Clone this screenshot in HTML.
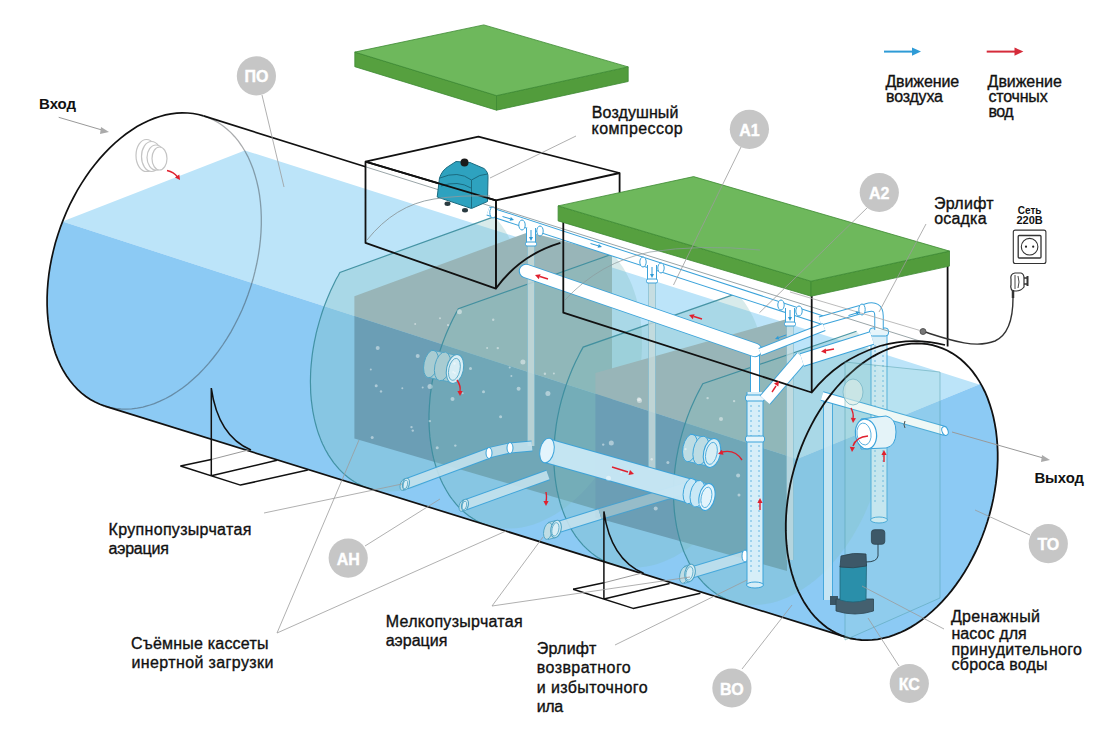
<!DOCTYPE html>
<html><head><meta charset="utf-8"><style>
html,body{margin:0;padding:0;background:#fff;}
svg{display:block;}
text{font-family:"Liberation Sans",sans-serif;}
</style></head><body>
<svg width="1116" height="740" viewBox="0 0 1116 740">
<defs><clipPath id="above"><path d="M0,0 L1116,0 L1116,562.1 L0,201.4 Z"/></clipPath><clipPath id="below"><path d="M0,201.4 L1116,562.1 L1116,740 L0,740 Z"/></clipPath><clipPath id="cyl"><path d="M203.5,115.9 L937.5,346.6 L937.5,346.6 L941.3,347.9 L945.0,349.4 L948.6,351.2 L952.1,353.2 L955.5,355.4 L958.8,357.8 L962.0,360.5 L965.1,363.3 L968.1,366.3 L971.0,369.6 L973.7,373.0 L976.3,376.6 L978.8,380.4 L981.1,384.4 L983.3,388.6 L985.4,392.9 L987.3,397.4 L989.0,402.0 L990.6,406.8 L992.0,411.6 L993.3,416.7 L994.4,421.8 L995.4,427.1 L996.2,432.4 L996.8,437.9 L997.3,443.4 L997.6,449.0 L997.7,454.7 L997.7,460.4 L997.5,466.2 L997.1,472.0 L996.6,477.9 L995.9,483.8 L995.0,489.7 L993.9,495.6 L992.8,501.5 L991.4,507.3 L989.9,513.2 L988.2,519.0 L986.4,524.8 L984.4,530.5 L982.3,536.2 L980.1,541.8 L977.7,547.3 L975.1,552.7 L972.5,558.0 L969.7,563.3 L966.8,568.4 L963.7,573.4 L960.6,578.2 L957.3,582.9 L954.0,587.5 L950.5,592.0 L946.9,596.2 L943.3,600.3 L939.6,604.3 L935.8,608.0 L931.9,611.6 L928.0,615.0 L924.0,618.2 L920.0,621.2 L915.9,624.0 L911.8,626.5 L907.6,628.9 L903.4,631.0 L899.2,633.0 L895.0,634.7 L890.8,636.2 L886.6,637.4 L882.4,638.4 L878.2,639.2 L874.1,639.8 L869.9,640.1 L865.8,640.2 L861.8,640.0 L857.7,639.7 L853.8,639.0 L849.9,638.2 L846.0,637.1 L104.9,406.1 L104.9,406.1 L101.2,404.8 L97.5,403.3 L93.9,401.5 L90.5,399.6 L87.1,397.4 L83.8,394.9 L80.7,392.3 L77.6,389.5 L74.7,386.4 L71.9,383.2 L69.3,379.8 L66.7,376.2 L64.3,372.4 L62.1,368.4 L60.0,364.2 L58.0,359.9 L56.2,355.5 L54.6,350.9 L53.1,346.1 L51.8,341.2 L50.6,336.2 L49.6,331.1 L48.7,325.8 L48.1,320.5 L47.6,315.0 L47.2,309.5 L47.1,303.9 L47.1,298.2 L47.2,292.5 L47.6,286.7 L48.1,280.9 L48.8,275.0 L49.6,269.1 L50.6,263.3 L51.8,257.4 L53.1,251.5 L54.6,245.6 L56.3,239.8 L58.1,233.9 L60.1,228.2 L62.2,222.5 L64.4,216.8 L66.8,211.2 L69.3,205.7 L72.0,200.3 L74.8,195.0 L77.7,189.7 L80.8,184.6 L83.9,179.6 L87.2,174.8 L90.6,170.0 L94.1,165.5 L97.6,161.0 L101.3,156.8 L105.1,152.7 L108.9,148.7 L112.8,145.0 L116.7,141.4 L120.8,138.0 L124.8,134.8 L129.0,131.8 L133.1,129.1 L137.3,126.5 L141.5,124.1 L145.8,122.0 L150.0,120.0 L154.3,118.3 L158.5,116.8 L162.8,115.6 L167.0,114.6 L171.3,113.8 L175.4,113.2 L179.6,112.9 L183.7,112.8 L187.8,113.0 L191.8,113.3 L195.8,113.9 L199.7,114.8 L203.5,115.9Z"/></clipPath></defs>
<rect width="1116" height="740" fill="#fff"/>
<path d="M62.4,221.6 L244.8,150.4 L979.1,384.5 L797.0,459.0Z" fill="#BCE4F9"/>
<path d="M62.4,221.6 L797,459 L979.1,384.5 L980.7,383.6 L983.1,388.2 L985.4,393.0 L987.5,397.9 L989.4,403.1 L991.1,408.4 L992.6,413.8 L994.0,419.4 L995.1,425.2 L996.0,431.1 L996.7,437.1 L997.3,443.2 L997.6,449.4 L997.7,455.7 L997.6,462.0 L997.3,468.4 L996.9,474.9 L996.2,481.4 L995.3,487.9 L994.2,494.4 L992.9,500.9 L991.4,507.4 L989.7,513.9 L987.8,520.3 L985.8,526.7 L983.5,533.0 L981.1,539.2 L978.5,545.3 L975.8,551.3 L972.9,557.2 L969.8,563.0 L966.6,568.7 L963.2,574.2 L959.7,579.5 L956.1,584.7 L952.3,589.7 L948.4,594.5 L944.4,599.1 L940.4,603.5 L936.2,607.7 L931.9,611.6 L927.6,615.3 L923.1,618.8 L918.7,622.1 L914.1,625.1 L909.6,627.8 L905.0,630.3 L900.3,632.5 L895.7,634.4 L891.0,636.1 L886.4,637.5 L881.7,638.6 L877.1,639.4 L872.5,639.9 L868.0,640.2 L863.5,640.1 L859.0,639.8 L854.6,639.2 L850.3,638.3 L846.0,637.1 L104.9,406.1 L104.9,406.1 L102.3,405.2 L99.7,404.2 L97.2,403.1 L94.7,401.9 L92.2,400.6 L89.8,399.2 L87.5,397.6 L85.2,396.0 L82.9,394.2 L80.7,392.4 L78.6,390.4 L76.5,388.4 L74.5,386.2 L72.6,384.0 L70.7,381.7 L68.8,379.2 L67.1,376.7 L65.4,374.1 L63.8,371.4 L62.2,368.6 L60.7,365.7 L59.3,362.8 L58.0,359.8 L56.7,356.7 L55.5,353.5 L54.4,350.2 L53.3,346.9 L52.4,343.5 L51.5,340.1 L50.7,336.6 L49.9,333.0 L49.3,329.4 L48.7,325.7 L48.3,322.0 L47.8,318.3 L47.5,314.4 L47.3,310.6 L47.1,306.7 L47.1,302.8 L47.1,298.8 L47.2,294.8 L47.3,290.8 L47.6,286.8 L47.9,282.7 L48.3,278.6 L48.8,274.6 L49.4,270.5 L50.1,266.4 L50.8,262.2 L51.6,258.1 L52.5,254.0 L53.5,249.9 L54.6,245.8 L55.7,241.8 L56.9,237.7 L58.2,233.6 L59.6,229.6 L61.0,225.6 L62.5,221.6Z" fill="#8CCAF4"/>
<g clip-path="url(#cyl)">
<path d="M339.9,272.4 L339.9,272.4 L336.2,279.3 L332.6,286.4 L329.3,293.7 L326.3,301.1 L323.5,308.6 L320.9,316.2 L318.6,323.8 L316.6,331.6 L314.9,339.3 L313.4,347.1 L312.3,354.8 L311.4,362.6 L310.8,370.2 L310.5,377.8 L310.5,385.3 L310.7,392.7 L311.3,400.0 L312.2,407.1 L313.3,414.0 L314.8,420.7 L316.5,427.3 L318.5,433.5 L320.8,439.6 L323.3,445.4 L326.1,450.9 L329.1,456.0 L332.4,460.9 L335.9,465.5 L339.7,469.7 L343.6,473.6 L347.8,477.1 L352.1,480.3 L356.6,483.1 L361.3,485.5 L366.2,487.5 L371.1,489.1 L376.2,490.3 L381.5,491.1 L386.8,491.5 L392.2,491.5 L397.6,491.1 L403.2,490.3 L408.7,489.0 L414.3,487.4 L419.9,485.4 L425.5,483.0 L431.1,480.2 L436.6,477.0 L442.0,473.5 L447.4,469.6 L452.8,465.4 L458.0,460.8 L463.1,455.9 L468.1,450.7 L472.9,445.2 L477.6,439.4 L482.1,433.4 L486.5,427.1 L490.6,420.5 L494.6,413.8 L498.3,406.9 L501.8,399.8 L505.1,392.5 L508.2,385.1 L510.9,377.6 L513.5,370.0 L515.8,362.3 L517.8,354.6 L519.5,346.8 L520.9,339.1 L522.1,331.3 L522.9,323.6 L523.5,315.9 L523.8,308.3 L523.8,300.8 L523.5,293.4 L522.9,286.2 L522.0,279.1 L520.9,272.2 L519.4,265.5 L517.7,259.0 L515.7,252.7 L513.4,246.7 L510.8,240.9 L508.0,235.4 L505.0,230.3 L501.7,225.4 L498.1,220.8 L494.4,216.6Z" fill="rgb(125,190,190)" fill-opacity="0.3"/>
<path d="M354.4,296.3 L511.0,238.6 L529.0,232.0 L612.0,254.0 L612.0,514.0 L354.4,438.5Z" fill="#98B5B8" clip-path="url(#above)"/><path d="M354.4,296.3 L511.0,238.6 L529.0,232.0 L612.0,254.0 L612.0,514.0 L354.4,438.5Z" fill="#6B9EB5" clip-path="url(#below)"/>
<path d="M458.4,308.8 L458.4,308.8 L454.7,315.7 L451.1,322.8 L447.9,330.0 L444.8,337.4 L442.0,344.9 L439.5,352.5 L437.2,360.2 L435.2,367.9 L433.4,375.6 L432.0,383.4 L430.8,391.2 L429.9,398.9 L429.3,406.6 L429.0,414.2 L429.0,421.7 L429.3,429.1 L429.9,436.4 L430.8,443.5 L431.9,450.4 L433.4,457.2 L435.1,463.7 L437.1,470.0 L439.3,476.1 L441.9,481.9 L444.6,487.4 L447.7,492.7 L451.0,497.6 L454.5,502.2 L458.2,506.4 L462.1,510.3 L466.3,513.9 L470.6,517.1 L475.1,519.9 L479.8,522.3 L484.7,524.4 L489.6,526.0 L494.7,527.3 L499.9,528.1 L505.2,528.6 L510.6,528.6 L516.1,528.2 L521.6,527.4 L527.2,526.3 L532.7,524.7 L538.3,522.7 L543.9,520.3 L549.4,517.6 L555.0,514.4 L560.4,510.9 L565.8,507.1 L571.1,502.8 L576.3,498.3 L581.4,493.4 L586.4,488.2 L591.2,482.8 L595.9,477.0 L600.4,471.0 L604.7,464.7 L608.9,458.2 L612.8,451.5 L616.6,444.6 L620.1,437.5 L623.4,430.2 L626.4,422.9 L629.2,415.4 L631.7,407.8 L634.0,400.1 L636.0,392.4 L637.7,384.6 L639.1,376.8 L640.3,369.1 L641.1,361.3 L641.7,353.7 L642.0,346.1 L642.0,338.6 L641.7,331.2 L641.1,323.9 L640.2,316.8 L639.0,309.9 L637.6,303.1 L635.8,296.6 L633.8,290.3 L631.6,284.3 L629.0,278.5 L626.2,273.0 L623.2,267.8 L619.9,262.9 L616.4,258.3 L612.6,254.0Z" fill="rgb(125,190,190)" fill-opacity="0.3"/>
<path d="M583.2,347.1 L583.2,347.1 L579.5,354.0 L575.9,361.0 L572.7,368.3 L569.6,375.6 L566.8,383.1 L564.3,390.7 L562.0,398.4 L560.0,406.1 L558.3,413.8 L556.8,421.6 L555.7,429.4 L554.8,437.1 L554.2,444.8 L553.9,452.4 L553.9,460.0 L554.2,467.4 L554.7,474.7 L555.6,481.8 L556.8,488.7 L558.2,495.5 L559.9,502.1 L561.9,508.4 L564.2,514.5 L566.7,520.3 L569.5,525.9 L572.5,531.1 L575.8,536.1 L579.3,540.7 L583.0,545.0 L586.9,549.0 L591.1,552.6 L595.4,555.8 L599.9,558.7 L604.6,561.1 L609.4,563.2 L614.4,564.9 L619.4,566.2 L624.6,567.1 L629.9,567.6 L635.3,567.6 L640.8,567.3 L646.3,566.6 L651.8,565.4 L657.4,563.9 L662.9,561.9 L668.5,559.6 L674.1,556.9 L679.6,553.8 L685.0,550.3 L690.4,546.5 L695.7,542.3 L700.9,537.8 L706.0,533.0 L710.9,527.8 L715.8,522.4 L720.4,516.7 L724.9,510.7 L729.3,504.4 L733.4,497.9 L737.3,491.2 L741.1,484.3 L744.6,477.3 L747.8,470.0 L750.9,462.7 L753.6,455.2 L756.2,447.6 L758.4,439.9 L760.4,432.2 L762.1,424.4 L763.6,416.7 L764.7,408.9 L765.6,401.2 L766.2,393.5 L766.4,385.9 L766.4,378.3 L766.1,370.9 L765.5,363.7 L764.7,356.5 L763.5,349.6 L762.0,342.8 L760.3,336.3 L758.3,329.9 L756.0,323.9 L753.5,318.1 L750.7,312.5 L747.7,307.3 L744.4,302.3 L740.9,297.7 L737.1,293.5Z" fill="rgb(125,190,190)" fill-opacity="0.3"/>
<path d="M595.4,373.0 L717.8,338.5 L787.0,319.0 L787.0,571.0 L595.4,517.5Z" fill="#98B5B8" clip-path="url(#above)"/><path d="M595.4,373.0 L717.8,338.5 L787.0,319.0 L787.0,571.0 L595.4,517.5Z" fill="#6B9EB5" clip-path="url(#below)"/>
<path d="M702.8,383.8 L702.8,383.8 L699.1,390.6 L695.6,397.7 L692.3,404.9 L689.3,412.2 L686.5,419.7 L683.9,427.3 L681.7,434.9 L679.7,442.7 L677.9,450.4 L676.5,458.2 L675.3,466.0 L674.4,473.7 L673.9,481.4 L673.5,489.0 L673.5,496.6 L673.8,504.0 L674.4,511.3 L675.3,518.5 L676.4,525.4 L677.8,532.2 L679.5,538.8 L681.5,545.2 L683.8,551.3 L686.3,557.2 L689.1,562.7 L692.1,568.0 L695.4,573.0 L698.9,577.7 L702.6,582.0 L706.5,586.0 L710.7,589.6 L715.0,592.9 L719.5,595.8 L724.1,598.3 L728.9,600.4 L733.9,602.2 L739.0,603.5 L744.2,604.4 L749.5,605.0 L754.8,605.1 L760.3,604.8 L765.8,604.1 L771.3,603.0 L776.9,601.5 L782.4,599.6 L788.0,597.3 L793.5,594.6 L799.0,591.5 L804.4,588.1 L809.8,584.3 L815.1,580.2 L820.3,575.7 L825.4,570.9 L830.3,565.8 L835.2,560.3 L839.8,554.6 L844.3,548.7 L848.6,542.4 L852.8,536.0 L856.7,529.3 L860.4,522.4 L863.9,515.4 L867.2,508.1 L870.2,500.8 L873.0,493.3 L875.5,485.7 L877.8,478.0 L879.7,470.3 L881.5,462.6 L882.9,454.8 L884.0,447.0 L884.9,439.3 L885.5,431.6 L885.7,424.0 L885.7,416.4 L885.4,409.0 L884.8,401.7 L884.0,394.6 L882.8,387.6 L881.3,380.8 L879.6,374.3 L877.6,367.9 L875.3,361.8 L872.8,356.0 L870.0,350.4 L867.0,345.1 L863.7,340.2 L860.2,335.5 L856.4,331.2Z" fill="rgb(125,190,190)" fill-opacity="0.3"/>
<path d="M494.4,216.6 L339.9,272.4 L339.9,272.4 L338.0,276.0 L336.0,279.5 L334.2,283.2 L332.4,286.9 L330.7,290.6 L329.0,294.4 L327.4,298.2 L325.9,302.0 L324.4,305.9 L323.0,309.8 L321.7,313.7 L320.5,317.6 L319.3,321.6 L318.2,325.6 L317.1,329.6 L316.1,333.6 L315.3,337.6 L314.4,341.6 L313.7,345.6 L313.0,349.6 L312.4,353.6 L311.9,357.6 L311.5,361.6 L311.1,365.6 L310.8,369.5 L310.6,373.5 L310.5,377.4 L310.4,381.3 L310.5,385.1 L310.6,389.0 L310.7,392.8 L311.0,396.5 L311.3,400.2 L311.8,403.9 L312.3,407.6 L312.8,411.1 L313.5,414.7 L314.2,418.2 L315.0,421.6 L315.9,425.0 L316.8,428.3 L317.8,431.6 L318.9,434.7 L320.1,437.9 L321.3,440.9 L322.6,443.9 L324.0,446.8 L325.4,449.7 L327.0,452.4 L328.5,455.1 L330.2,457.7 L331.9,460.2 L333.6,462.6 L335.5,464.9 L337.4,467.2 L339.3,469.4 L341.3,471.4 L343.4,473.4 L345.5,475.3 L347.6,477.0 L349.9,478.7 L352.1,480.3 L354.4,481.8 L356.8,483.2 L359.2,484.4 L361.6,485.6 L364.1,486.7 L366.7,487.7 L369.2,488.5" fill="none" stroke="#3A8C9C" stroke-opacity="0.9" stroke-width="1.2"/>
<path d="M612.6,254.0 L458.4,308.8 L458.4,308.8 L456.4,312.4 L454.5,316.0 L452.7,319.6 L450.9,323.3 L449.2,327.0 L447.5,330.8 L445.9,334.6 L444.4,338.4 L442.9,342.3 L441.5,346.2 L440.2,350.1 L439.0,354.1 L437.8,358.1 L436.7,362.0 L435.6,366.0 L434.7,370.0 L433.8,374.1 L433.0,378.1 L432.2,382.1 L431.5,386.1 L431.0,390.1 L430.4,394.1 L430.0,398.1 L429.7,402.1 L429.4,406.1 L429.2,410.0 L429.0,414.0 L429.0,417.9 L429.0,421.7 L429.1,425.6 L429.3,429.4 L429.6,433.2 L429.9,436.9 L430.4,440.6 L430.9,444.3 L431.5,447.9 L432.1,451.4 L432.8,454.9 L433.6,458.4 L434.5,461.8 L435.5,465.1 L436.5,468.4 L437.6,471.6 L438.8,474.7 L440.0,477.8 L441.3,480.8 L442.7,483.7 L444.2,486.5 L445.7,489.3 L447.3,492.0 L448.9,494.6 L450.6,497.1 L452.4,499.5 L454.3,501.9 L456.1,504.2 L458.1,506.3 L460.1,508.4 L462.2,510.4 L464.3,512.3 L466.5,514.0 L468.7,515.7 L471.0,517.3 L473.3,518.8 L475.7,520.2 L478.1,521.5 L480.5,522.7 L483.0,523.7 L485.6,524.7 L488.1,525.6" fill="none" stroke="#3A8C9C" stroke-opacity="0.9" stroke-width="1.2"/>
<path d="M737.1,293.4 L583.2,347.1 L583.2,347.1 L581.2,350.6 L579.3,354.2 L577.5,357.9 L575.7,361.6 L574.0,365.3 L572.3,369.1 L570.7,372.9 L569.2,376.8 L567.7,380.6 L566.3,384.6 L565.0,388.5 L563.7,392.5 L562.6,396.4 L561.4,400.4 L560.4,404.4 L559.4,408.4 L558.6,412.5 L557.7,416.5 L557.0,420.5 L556.3,424.6 L555.8,428.6 L555.3,432.6 L554.8,436.6 L554.5,440.6 L554.2,444.6 L554.0,448.6 L553.9,452.5 L553.8,456.5 L553.9,460.4 L554.0,464.2 L554.2,468.0 L554.5,471.8 L554.8,475.6 L555.3,479.3 L555.8,483.0 L556.4,486.6 L557.0,490.2 L557.8,493.7 L558.6,497.1 L559.5,500.5 L560.4,503.9 L561.5,507.2 L562.6,510.4 L563.8,513.5 L565.0,516.6 L566.4,519.6 L567.8,522.6 L569.2,525.4 L570.7,528.2 L572.3,530.9 L574.0,533.5 L575.7,536.1 L577.5,538.5 L579.4,540.9 L581.3,543.1 L583.2,545.3 L585.3,547.4 L587.4,549.4 L589.5,551.3 L591.7,553.1 L593.9,554.8 L596.2,556.4 L598.5,557.9 L600.9,559.2 L603.3,560.5 L605.8,561.7 L608.3,562.8 L610.9,563.8 L613.4,564.6" fill="none" stroke="#3A8C9C" stroke-opacity="0.9" stroke-width="1.2"/>
<path d="M856.5,331.2 L702.8,383.8 L702.8,383.8 L700.9,387.3 L699.0,390.9 L697.1,394.6 L695.3,398.3 L693.6,402.0 L691.9,405.8 L690.3,409.6 L688.8,413.4 L687.3,417.3 L685.9,421.2 L684.6,425.2 L683.4,429.2 L682.2,433.1 L681.1,437.1 L680.0,441.2 L679.1,445.2 L678.2,449.2 L677.4,453.3 L676.6,457.3 L676.0,461.4 L675.4,465.4 L674.9,469.4 L674.5,473.5 L674.1,477.5 L673.8,481.5 L673.7,485.5 L673.5,489.4 L673.5,493.4 L673.6,497.3 L673.7,501.1 L673.9,505.0 L674.2,508.8 L674.5,512.6 L675.0,516.3 L675.5,520.0 L676.1,523.6 L676.7,527.2 L677.5,530.7 L678.3,534.2 L679.2,537.6 L680.2,541.0 L681.2,544.3 L682.4,547.5 L683.5,550.7 L684.8,553.8 L686.2,556.8 L687.6,559.8 L689.0,562.6 L690.6,565.4 L692.2,568.1 L693.8,570.8 L695.6,573.3 L697.4,575.8 L699.2,578.1 L701.2,580.4 L703.1,582.6 L705.2,584.7 L707.3,586.7 L709.4,588.6 L711.6,590.4 L713.9,592.1 L716.2,593.7 L718.5,595.2 L720.9,596.6 L723.3,597.9 L725.8,599.1 L728.3,600.2 L730.9,601.2 L733.5,602.0" fill="none" stroke="#3A8C9C" stroke-opacity="0.9" stroke-width="1.2"/>
</g>
<g opacity="0.8"><path d="M531.0,228.0 L531.0,446.0" fill="none" stroke="#8CC0D0" stroke-width="8.0" stroke-linecap="butt" stroke-linejoin="round"/><path d="M531.0,228.0 L531.0,446.0" fill="none" stroke="#C9DCDC" stroke-width="6" stroke-linecap="butt" stroke-linejoin="round"/></g>
<g opacity="0.8"><path d="M652.0,266.0 L652.0,470.0" fill="none" stroke="#8CC0D0" stroke-width="8.0" stroke-linecap="butt" stroke-linejoin="round"/><path d="M652.0,266.0 L652.0,470.0" fill="none" stroke="#C9DCDC" stroke-width="6" stroke-linecap="butt" stroke-linejoin="round"/></g>
<g opacity="0.7"><path d="M790.0,307.0 L790.0,560.0" fill="none" stroke="#8CC0D0" stroke-width="8.0" stroke-linecap="butt" stroke-linejoin="round"/><path d="M790.0,307.0 L790.0,560.0" fill="none" stroke="#C9DCDC" stroke-width="6" stroke-linecap="butt" stroke-linejoin="round"/></g>
<g opacity="0.9"><path d="M406.0,484.0 L492.0,452.0 L510.0,448.0 L532.0,446.0" fill="none" stroke="#3BA3DA" stroke-width="11.0" stroke-linecap="butt" stroke-linejoin="round"/><path d="M406.0,484.0 L492.0,452.0 L510.0,448.0 L532.0,446.0" fill="none" stroke="#C4E2EE" stroke-width="9" stroke-linecap="butt" stroke-linejoin="round"/></g>
<g opacity="0.9"><path d="M465.0,505.0 L548.0,475.0" fill="none" stroke="#3BA3DA" stroke-width="11.0" stroke-linecap="butt" stroke-linejoin="round"/><path d="M465.0,505.0 L548.0,475.0" fill="none" stroke="#C4E2EE" stroke-width="9" stroke-linecap="butt" stroke-linejoin="round"/></g>
<g opacity="0.9"><path d="M552.0,529.0 L600.0,514.0" fill="none" stroke="#3BA3DA" stroke-width="12.0" stroke-linecap="butt" stroke-linejoin="round"/><path d="M552.0,529.0 L600.0,514.0" fill="none" stroke="#C4E2EE" stroke-width="10" stroke-linecap="butt" stroke-linejoin="round"/></g>
<g opacity="0.7"><path d="M600.0,514.0 L690.0,487.0" fill="none" stroke="#3BA3DA" stroke-width="12.0" stroke-linecap="butt" stroke-linejoin="round"/><path d="M600.0,514.0 L690.0,487.0" fill="none" stroke="#A9C9D2" stroke-width="10" stroke-linecap="butt" stroke-linejoin="round"/></g>
<path d="M403.0,479.5 L406.0,478.5 L406.0,489.5 L403.0,490.5 Z" fill="#BFDDE5" stroke="none"/>
<ellipse cx="403" cy="485" rx="2.8" ry="5.5" transform="rotate(12 403 485)" fill="#BFDDE5" stroke="#4FA3C4" stroke-width="0.9"/>
<path d="M403.0,479.5 L406.0,478.5 M403.0,490.5 L406.0,489.5" stroke="#4FA3C4" stroke-width="0.9"/>
<ellipse cx="406" cy="484" rx="3.3" ry="5.8" transform="rotate(12 406 484)" fill="#D8EEF5" stroke="#4FA3C4" stroke-width="1.1"/>
<ellipse cx="405.5" cy="484.5" rx="2.2" ry="4.4" transform="rotate(12 406 484)" fill="none" stroke="#4FA3C4" stroke-width="0.8"/>
<path d="M462.0,500.5 L465.0,499.5 L465.0,510.5 L462.0,511.5 Z" fill="#BFDDE5" stroke="none"/>
<ellipse cx="462" cy="506" rx="2.8" ry="5.5" transform="rotate(12 462 506)" fill="#BFDDE5" stroke="#4FA3C4" stroke-width="0.9"/>
<path d="M462.0,500.5 L465.0,499.5 M462.0,511.5 L465.0,510.5" stroke="#4FA3C4" stroke-width="0.9"/>
<ellipse cx="465" cy="505" rx="3.3" ry="5.8" transform="rotate(12 465 505)" fill="#D8EEF5" stroke="#4FA3C4" stroke-width="1.1"/>
<ellipse cx="464.5" cy="505.5" rx="2.2" ry="4.4" transform="rotate(12 465 505)" fill="none" stroke="#4FA3C4" stroke-width="0.8"/>
<path d="M548.0,522.5 L556.0,520.5 L556.0,537.5 L548.0,539.5 Z" fill="#BFDDE5" stroke="none"/>
<ellipse cx="548" cy="531" rx="4.2" ry="8.5" transform="rotate(12 548 531)" fill="#BFDDE5" stroke="#4FA3C4" stroke-width="0.9"/>
<path d="M548.0,522.5 L556.0,520.5 M548.0,539.5 L556.0,537.5" stroke="#4FA3C4" stroke-width="0.9"/>
<ellipse cx="556" cy="529" rx="5.1" ry="8.9" transform="rotate(12 556 529)" fill="#D8EEF5" stroke="#4FA3C4" stroke-width="1.1"/>
<ellipse cx="555.5" cy="529.5" rx="3.4" ry="6.8" transform="rotate(12 556 529)" fill="none" stroke="#4FA3C4" stroke-width="0.8"/>
<g opacity="0.85"><path d="M690.0,573.0 L760.0,552.0" fill="none" stroke="#3BA3DA" stroke-width="12.0" stroke-linecap="butt" stroke-linejoin="round"/><path d="M690.0,573.0 L760.0,552.0" fill="none" stroke="#C4E2EE" stroke-width="10" stroke-linecap="butt" stroke-linejoin="round"/></g>
<path d="M684.0,566.5 L690.0,564.5 L690.0,581.5 L684.0,583.5 Z" fill="#BFDDE5" stroke="none"/>
<ellipse cx="684" cy="575" rx="4.2" ry="8.5" transform="rotate(12 684 575)" fill="#BFDDE5" stroke="#4FA3C4" stroke-width="0.9"/>
<path d="M684.0,566.5 L690.0,564.5 M684.0,583.5 L690.0,581.5" stroke="#4FA3C4" stroke-width="0.9"/>
<ellipse cx="690" cy="573" rx="5.1" ry="8.9" transform="rotate(12 690 573)" fill="#D8EEF5" stroke="#4FA3C4" stroke-width="1.1"/>
<ellipse cx="689.5" cy="573.5" rx="3.4" ry="6.8" transform="rotate(12 690 573)" fill="none" stroke="#4FA3C4" stroke-width="0.8"/>
<ellipse cx="489" cy="453" rx="3" ry="5.5" transform="rotate(0 489 453)" fill="#fff" stroke="#3BA3DA" stroke-width="1"/>
<ellipse cx="510" cy="448" rx="3" ry="5.5" transform="rotate(0 510 448)" fill="#fff" stroke="#3BA3DA" stroke-width="1"/>
<ellipse cx="745" cy="556" rx="3" ry="6" transform="rotate(0 745 556)" fill="#fff" stroke="#3BA3DA" stroke-width="1"/>
<g opacity="0.95"><path d="M548.0,451.0 L700.0,494.0" fill="none" stroke="#3BA3DA" stroke-width="25.0" stroke-linecap="butt" stroke-linejoin="round"/><path d="M548.0,451.0 L700.0,494.0" fill="none" stroke="#C9E8F6" stroke-width="23" stroke-linecap="butt" stroke-linejoin="round"/></g>
<ellipse cx="547" cy="450.5" rx="7" ry="12.5" transform="rotate(12 547 450.5)" fill="#E3F4FC" stroke="#3BA3DA" stroke-width="1"/>
<path d="M690.0,478.0 L707.0,484.0 L707.0,510.0 L690.0,504.0 Z" fill="#C9E8F6" stroke="none"/>
<ellipse cx="690" cy="491" rx="6.5" ry="13" transform="rotate(12 690 491)" fill="#C9E8F6" stroke="#3BA3DA" stroke-width="0.9"/>
<path d="M690.0,478.0 L707.0,484.0 M690.0,504.0 L707.0,510.0" stroke="#3BA3DA" stroke-width="0.9"/>
<ellipse cx="697.6" cy="493.7" rx="7.2" ry="13.5" transform="rotate(12 697.6 493.7)" fill="#C9E8F6" stroke="#3BA3DA" stroke-width="0.9"/>
<ellipse cx="707" cy="497" rx="7.8" ry="13.7" transform="rotate(12 707 497)" fill="#E3F4FC" stroke="#3BA3DA" stroke-width="1.1"/>
<ellipse cx="706.5" cy="497.5" rx="5.2" ry="10.4" transform="rotate(12 707 497)" fill="none" stroke="#3BA3DA" stroke-width="0.8"/>
<path d="M431.0,350.0 L455.0,355.0 L455.0,383.0 L431.0,378.0 Z" fill="#A8CCD2" stroke="none"/>
<ellipse cx="431" cy="364" rx="7.0" ry="14" transform="rotate(12 431 364)" fill="#A8CCD2" stroke="#4FA3C4" stroke-width="0.9"/>
<path d="M431.0,350.0 L455.0,355.0 M431.0,378.0 L455.0,383.0" stroke="#4FA3C4" stroke-width="0.9"/>
<ellipse cx="442.5" cy="366.4" rx="7.7" ry="14.6" transform="rotate(12 442.5 366.4)" fill="#A8CCD2" stroke="#4FA3C4" stroke-width="0.9"/>
<ellipse cx="455" cy="369" rx="8.4" ry="14.7" transform="rotate(12 455 369)" fill="#D8EEF5" stroke="#4FA3C4" stroke-width="1.1"/>
<ellipse cx="454.5" cy="369.5" rx="5.6" ry="11.2" transform="rotate(12 455 369)" fill="none" stroke="#4FA3C4" stroke-width="0.8"/>
<path d="M690.0,434.0 L712.0,439.0 L712.0,467.0 L690.0,462.0 Z" fill="#BCDCE4" stroke="none"/>
<ellipse cx="690" cy="448" rx="7.0" ry="14" transform="rotate(12 690 448)" fill="#BCDCE4" stroke="#3BA3DA" stroke-width="0.9"/>
<path d="M690.0,434.0 L712.0,439.0 M690.0,462.0 L712.0,467.0" stroke="#3BA3DA" stroke-width="0.9"/>
<ellipse cx="701.0" cy="450.5" rx="7.7" ry="14.6" transform="rotate(12 701.0 450.5)" fill="#BCDCE4" stroke="#3BA3DA" stroke-width="0.9"/>
<ellipse cx="712" cy="453" rx="8.4" ry="14.7" transform="rotate(12 712 453)" fill="#D8EEF5" stroke="#3BA3DA" stroke-width="1.1"/>
<ellipse cx="711.5" cy="453.5" rx="5.6" ry="11.2" transform="rotate(12 712 453)" fill="none" stroke="#3BA3DA" stroke-width="0.8"/>
<g opacity="1.0"><path d="M755.0,352.0 L755.0,395.0" fill="none" stroke="#3BA3DA" stroke-width="10.0" stroke-linecap="butt" stroke-linejoin="round"/><path d="M755.0,352.0 L755.0,395.0" fill="none" stroke="#fff" stroke-width="8" stroke-linecap="butt" stroke-linejoin="round"/></g>
<g opacity="1.0"><path d="M755.0,392.0 L755.0,585.0" fill="none" stroke="#3BA3DA" stroke-width="17.0" stroke-linecap="butt" stroke-linejoin="round"/><path d="M755.0,392.0 L755.0,585.0" fill="none" stroke="#D6EEF8" stroke-width="15" stroke-linecap="butt" stroke-linejoin="round"/></g>
<ellipse cx="755" cy="585" rx="8.5" ry="3" fill="#D6EEF8" stroke="#3BA3DA" stroke-width="1"/>
<path d="M751,405 L751,575 M759,405 L759,575" stroke="#4AA8DC" stroke-width="0.8" stroke-dasharray="2,3"/>
<rect x="745.5" y="395" width="19" height="6" rx="2" fill="#E6F5FB" stroke="#3BA3DA" stroke-width="1"/>
<rect x="745.5" y="436" width="19" height="6" rx="2" fill="#E6F5FB" stroke="#3BA3DA" stroke-width="1"/>
<g opacity="0.9"><path d="M879.0,330.0 L879.0,520.0" fill="none" stroke="#3BA3DA" stroke-width="17.0" stroke-linecap="butt" stroke-linejoin="round"/><path d="M879.0,330.0 L879.0,520.0" fill="none" stroke="#D6EEF8" stroke-width="15" stroke-linecap="butt" stroke-linejoin="round"/></g>
<ellipse cx="879" cy="520" rx="8.5" ry="3" fill="#D6EEF8" stroke="#3BA3DA" stroke-width="1"/>
<path d="M875,345 L875,505 M883,345 L883,505" stroke="#4AA8DC" stroke-width="0.8" stroke-dasharray="2,3"/>
<rect x="869.5" y="328" width="19" height="8" rx="3" fill="#E6F5FB" stroke="#3BA3DA" stroke-width="1"/>
<g opacity="0.85"><path d="M828.0,400.0 L828.0,600.0" fill="none" stroke="#3BA3DA" stroke-width="10.0" stroke-linecap="butt" stroke-linejoin="round"/><path d="M828.0,400.0 L828.0,600.0" fill="none" stroke="#CFEAF4" stroke-width="8" stroke-linecap="butt" stroke-linejoin="round"/></g>
<g opacity="1.0"><path d="M526.0,271.0 L755.0,350.0" fill="none" stroke="#3BA3DA" stroke-width="14.5" stroke-linecap="round" stroke-linejoin="round"/><path d="M526.0,271.0 L755.0,350.0" fill="none" stroke="#fff" stroke-width="12.5" stroke-linecap="round" stroke-linejoin="round"/></g>
<g opacity="1.0"><path d="M488.0,211.0 L822.0,320.0" fill="none" stroke="#3BA3DA" stroke-width="9.5" stroke-linecap="butt" stroke-linejoin="round"/><path d="M488.0,211.0 L822.0,320.0" fill="none" stroke="#fff" stroke-width="7.5" stroke-linecap="butt" stroke-linejoin="round"/></g>
<path d="M820,321 L866,308 Q879,304 879,316 L879,330" fill="none" stroke="#3BA3DA" stroke-width="9.5" stroke-linejoin="round"/><path d="M820,321 L866,308 Q879,304 879,316 L879,330" fill="none" stroke="#fff" stroke-width="7.5" stroke-linejoin="round"/>
<ellipse cx="862" cy="309.5" rx="3.2" ry="5.5" transform="rotate(0 862 309.5)" fill="#fff" stroke="#3BA3DA" stroke-width="1"/>
<g opacity="1.0"><path d="M760.0,352.0 L824.0,327.0" fill="none" stroke="#3BA3DA" stroke-width="8.5" stroke-linecap="butt" stroke-linejoin="round"/><path d="M760.0,352.0 L824.0,327.0" fill="none" stroke="#fff" stroke-width="6.5" stroke-linecap="butt" stroke-linejoin="round"/></g>
<g opacity="1.0"><path d="M531.0,228.0 L531.0,244.0" fill="none" stroke="#3BA3DA" stroke-width="10.0" stroke-linecap="butt" stroke-linejoin="round"/><path d="M531.0,228.0 L531.0,244.0" fill="none" stroke="#fff" stroke-width="8" stroke-linecap="butt" stroke-linejoin="round"/></g>
<path d="M531,230 L531,239" stroke="#2E9BD6" stroke-width="1"/><path d="M529,237 L531,241 L533,237 Z" fill="#2E9BD6"/>
<rect x="525.5" y="242" width="11" height="4" rx="1.5" fill="#fff" stroke="#3BA3DA" stroke-width="1"/>
<ellipse cx="522" cy="225" rx="3.2" ry="5" transform="rotate(0 522 225)" fill="#fff" stroke="#3BA3DA" stroke-width="1"/>
<ellipse cx="540" cy="231" rx="3.2" ry="5" transform="rotate(0 540 231)" fill="#fff" stroke="#3BA3DA" stroke-width="1"/>
<g opacity="1.0"><path d="M652.0,265.0 L652.0,281.0" fill="none" stroke="#3BA3DA" stroke-width="10.0" stroke-linecap="butt" stroke-linejoin="round"/><path d="M652.0,265.0 L652.0,281.0" fill="none" stroke="#fff" stroke-width="8" stroke-linecap="butt" stroke-linejoin="round"/></g>
<path d="M652,267 L652,276" stroke="#2E9BD6" stroke-width="1"/><path d="M650,274 L652,278 L654,274 Z" fill="#2E9BD6"/>
<rect x="646.5" y="279" width="11" height="4" rx="1.5" fill="#fff" stroke="#3BA3DA" stroke-width="1"/>
<ellipse cx="643" cy="262" rx="3.2" ry="5" transform="rotate(0 643 262)" fill="#fff" stroke="#3BA3DA" stroke-width="1"/>
<ellipse cx="661" cy="268" rx="3.2" ry="5" transform="rotate(0 661 268)" fill="#fff" stroke="#3BA3DA" stroke-width="1"/>
<g opacity="1.0"><path d="M790.0,308.0 L790.0,324.0" fill="none" stroke="#3BA3DA" stroke-width="10.0" stroke-linecap="butt" stroke-linejoin="round"/><path d="M790.0,308.0 L790.0,324.0" fill="none" stroke="#fff" stroke-width="8" stroke-linecap="butt" stroke-linejoin="round"/></g>
<path d="M790,310 L790,319" stroke="#2E9BD6" stroke-width="1"/><path d="M788,317 L790,321 L792,317 Z" fill="#2E9BD6"/>
<rect x="784.5" y="322" width="11" height="4" rx="1.5" fill="#fff" stroke="#3BA3DA" stroke-width="1"/>
<ellipse cx="781" cy="305" rx="3.2" ry="5" transform="rotate(0 781 305)" fill="#fff" stroke="#3BA3DA" stroke-width="1"/>
<ellipse cx="799" cy="311" rx="3.2" ry="5" transform="rotate(0 799 311)" fill="#fff" stroke="#3BA3DA" stroke-width="1"/>
<ellipse cx="493" cy="212.5" rx="3.2" ry="5.5" transform="rotate(0 493 212.5)" fill="#fff" stroke="#3BA3DA" stroke-width="1"/>
<g opacity="1.0"><path d="M765.0,400.0 L802.0,357.0" fill="none" stroke="#3BA3DA" stroke-width="14.0" stroke-linecap="butt" stroke-linejoin="round"/><path d="M765.0,400.0 L802.0,357.0" fill="none" stroke="#fff" stroke-width="12" stroke-linecap="butt" stroke-linejoin="round"/></g>
<g opacity="1.0"><path d="M802.0,360.0 L872.0,338.0" fill="none" stroke="#3BA3DA" stroke-width="14.0" stroke-linecap="butt" stroke-linejoin="round"/><path d="M802.0,360.0 L872.0,338.0" fill="none" stroke="#fff" stroke-width="12" stroke-linecap="butt" stroke-linejoin="round"/></g>
<g opacity="1.0"><path d="M822.0,396.0 L945.0,431.0" fill="none" stroke="#3BA3DA" stroke-width="10.0" stroke-linecap="butt" stroke-linejoin="round"/><path d="M822.0,396.0 L945.0,431.0" fill="none" stroke="#fff" stroke-width="8" stroke-linecap="butt" stroke-linejoin="round"/></g>
<ellipse cx="945" cy="431" rx="3" ry="4.5" transform="rotate(-20 945 431)" fill="#fff" stroke="#3BA3DA" stroke-width="1"/>
<path d="M905,421 Q903,425 905,428" fill="none" stroke="#333" stroke-width="1"/>
<path d="M203.5,115.9 L203.5,115.9 L198.4,114.5 L193.1,113.5 L187.7,113.0 L182.3,112.8 L176.7,113.1 L171.1,113.8 L165.5,114.9 L159.8,116.5 L154.1,118.4 L148.4,120.8 L142.7,123.5 L137.0,126.6 L131.4,130.2 L125.9,134.0 L120.4,138.3 L115.1,142.9 L109.8,147.8 L104.7,153.1 L99.7,158.6 L94.9,164.5 L90.2,170.6 L85.7,177.0 L81.4,183.6 L77.3,190.4 L73.5,197.5 L69.8,204.7 L66.4,212.1 L63.3,219.6 L60.4,227.2 L57.8,234.9 L55.4,242.7 L53.4,250.6 L51.6,258.5 L50.1,266.4 L48.9,274.2 L48.0,282.1 L47.4,289.8 L47.1,297.5 L47.1,305.1 L47.4,312.6 L48.0,319.9 L48.9,327.1 L50.1,334.0 L51.7,340.8 L53.5,347.3 L55.5,353.6 L57.9,359.6 L60.5,365.4 L63.4,370.8 L66.6,376.0 L70.0,380.8 L73.7,385.3 L77.5,389.4 L81.6,393.1 L85.9,396.5 L90.4,399.5 L95.1,402.1 L99.9,404.3 L104.9,406.1" fill="none" stroke="#111" stroke-width="1.7"/>
<path d="M203.5,115.9 L203.5,115.9 L208.5,117.7 L213.3,119.9 L218.0,122.5 L222.5,125.5 L226.8,128.9 L230.9,132.6 L234.7,136.7 L238.4,141.2 L241.8,146.0 L245.0,151.2 L247.9,156.6 L250.5,162.4 L252.9,168.4 L254.9,174.7 L256.7,181.2 L258.3,188.0 L259.5,194.9 L260.4,202.1 L261.0,209.4 L261.3,216.9 L261.3,224.5 L261.0,232.2 L260.4,239.9 L259.5,247.8 L258.3,255.6 L256.8,263.5 L255.0,271.4 L253.0,279.3 L250.6,287.1 L248.0,294.8 L245.1,302.4 L242.0,309.9 L238.6,317.3 L234.9,324.5 L231.1,331.6 L227.0,338.4 L222.7,345.0 L218.2,351.4 L213.5,357.5 L208.7,363.4 L203.7,368.9 L198.6,374.2 L193.3,379.1 L188.0,383.7 L182.5,388.0 L177.0,391.8 L171.4,395.4 L165.7,398.5 L160.0,401.2 L154.3,403.6 L148.6,405.5 L142.9,407.1 L137.3,408.2 L131.7,408.9 L126.1,409.2 L120.7,409.0 L115.3,408.5 L110.0,407.5 L104.9,406.1" fill="none" stroke="rgb(50,55,60)" stroke-opacity="0.42" stroke-width="1.3"/>
<path d="M203.5,115.9 L365.5,166.8" stroke="#111" stroke-width="1.7"/>
<path d="M365.5,166.8 L937.5,346.6" stroke="#9aa5a8" stroke-width="1"/>
<path d="M104.9,406.1 L846.0,637.1" stroke="#111" stroke-width="1.7"/>
<path d="M987.3,522.0 L984.8,529.5 L982.0,537.0 L979.0,544.3 L975.7,551.5 L972.2,558.5 L968.5,565.4 L964.6,572.0 L960.4,578.4 L956.1,584.6 L951.6,590.6 L947.0,596.2 L942.1,601.6 L937.2,606.7 L932.1,611.4 L926.9,615.9 L921.7,619.9 L916.3,623.7 L910.9,627.1 L905.4,630.1 L899.9,632.7 L894.3,634.9 L888.8,636.8 L883.2,638.2 L877.7,639.3 L872.2,639.9 L866.8,640.2 L861.5,640.0 L856.2,639.4 L851.0,638.5 L846.0,637.1 L841.0,635.3 L836.2,633.1 L831.6,630.6 L827.1,627.7 L822.8,624.3 L818.7,620.7 L814.7,616.6 L811.0,612.3 L807.6,607.6 L804.3,602.6 L801.3,597.2 L798.5,591.6 L796.0,585.8 L793.8,579.6 L791.8,573.2 L790.1,566.6 L788.7,559.8 L787.5,552.8 L786.7,545.7 L786.1,538.4 L785.8,530.9 L785.8,523.4 L786.1,515.8 L786.7,508.1 L787.6,500.3 L788.8,492.6 L790.2,484.8 L791.9,477.1 L793.9,469.4 L796.2,461.7 L798.7,454.1 L801.5,446.7 L804.5,439.4 L807.8,432.2 L811.3,425.1 L815.0,418.3 L818.9,411.7 L823.1,405.2 L827.4,399.1 L831.9,393.1 L836.5,387.5 L841.4,382.1 L846.3,377.0 L851.4,372.3 L856.6,367.8 L861.8,363.7 L867.2,360.0 L872.6,356.6 L878.1,353.6 L883.6,351.0 L889.2,348.7 L894.7,346.9 L900.3,345.4 L905.8,344.4 L911.3,343.7 L916.7,343.5 L922.0,343.7 L927.3,344.2 L932.5,345.2 L937.5,346.6 L942.5,348.4 L947.3,350.5 L951.9,353.1 L956.4,356.0 L960.7,359.3 L964.8,363.0 L968.8,367.0 L972.5,371.4 L975.9,376.1 L979.2,381.1 L982.2,386.4 L985.0,392.0 L987.5,397.9 L989.7,404.1 L991.7,410.4 L993.4,417.0 L994.8,423.8 L996.0,430.8 L996.8,438.0 L997.4,445.3 L997.7,452.7 L997.7,460.3 L997.4,467.9 L996.8,475.6 L995.9,483.4 L994.7,491.1 L993.3,498.9 L991.6,506.6 L989.6,514.3 L987.3,522.0Z" fill="none" stroke="#111" stroke-width="1.8"/>
<path d="M180.5,466.0 L211.3,459.5" stroke="#111" stroke-width="1.6"/>
<path d="M211.3,459.5 L249.5,449.7" stroke="#999" stroke-width="1"/>
<path d="M180.5,466.0 L240.5,485.1 L307.8,470.0 M211.3,475.7 L277.0,460.3 M211.3,388.1 L211.3,475.7 M211.3,388.1 Q218.0,436.0 251.0,450.0" fill="none" stroke="#111" stroke-width="1.5" stroke-linejoin="round"/>
<path d="M573.1,589.3 L603.9,582.8" stroke="#111" stroke-width="1.6"/>
<path d="M603.9,582.8 L642.1,573.0" stroke="#999" stroke-width="1"/>
<path d="M573.1,589.3 L633.1,608.4 L700.4,593.3 M603.9,599.0 L669.6,583.6 M603.9,511.4 L603.9,599.0 M603.9,511.4 Q610.6,559.3 643.6,573.3" fill="none" stroke="#111" stroke-width="1.5" stroke-linejoin="round"/>
<path d="M365.5,161.7 L478.4,136.7 L619.6,173 L495.9,200.4 Z M365.5,161.7 L365.5,242.9 L495.9,288.6 L495.9,200.4 M619.6,173 L619.6,193 M495.9,288.6 Q520,255 560.4,242.9" stroke="#111" stroke-width="1.8" fill="none" stroke-linejoin="round"/>
<path d="M563.3,221 L563.3,312.7 L811.7,392.5 L811.7,296 M947.6,266 L947.6,346.6 M811.7,392.5 C830,370 850,356 880,346 C905,339 925,340 945,345" stroke="#111" stroke-width="1.8" fill="none" stroke-linejoin="round"/>
<path d="M437.2,197 L439.5,178 Q442,170 449,166 L456,161.5 L470,162.5 L484,168.5 Q488.5,172 488,178 L487.5,201.5 L471.5,208.5 Z" fill="#2EA2BF" stroke="#1B6B80" stroke-width="1"/>
<path d="M440,178 Q458,170 471.5,180 L471.5,208 M471.5,180 Q480,174 487.5,174 M441,186 Q458,180 471,188" fill="none" stroke="#1B6B80" stroke-width="1"/>
<circle cx="464.5" cy="162.5" r="4" fill="#1a1a1a"/>
<ellipse cx="447.5" cy="203.8" rx="3" ry="2.2" fill="#2a3a40"/><ellipse cx="465" cy="210.3" rx="3" ry="2.2" fill="#2a3a40"/>
<path d="M365.5,161.7 L495.9,200.4 L495.9,288.6" fill="none" stroke="#111" stroke-width="1.8"/>
<path d="M354.8,52.1 L496.5,95.6 L496.5,110.2 L354.8,66.7Z" fill="#56A03F" stroke="#3E8A33" stroke-width="0.8"/>
<path d="M496.5,95.6 L628.2,66.9 L628.2,81.5 L496.5,110.2Z" fill="#529C3C" stroke="#3E8A33" stroke-width="0.8"/>
<path d="M354.8,52.1 L483.8,24.9 L628.2,66.9 L496.5,95.6Z" fill="#6EB85C" stroke="#3E8A33" stroke-width="0.8"/>
<path d="M558.1,205.9 L811.0,281.2 L811.0,296.2 L558.1,220.9Z" fill="#56A03F" stroke="#3E8A33" stroke-width="0.8"/>
<path d="M811.0,281.2 L949.5,251.1 L949.5,266.1 L811.0,296.2Z" fill="#529C3C" stroke="#3E8A33" stroke-width="0.8"/>
<path d="M558.1,205.9 L693.6,176.6 L949.5,251.1 L811.0,281.2Z" fill="#6EB85C" stroke="#3E8A33" stroke-width="0.8"/>
<path d="M367,240 Q395,205 434,199 Q460,195 490,196" fill="none" stroke="#8c9a9e" stroke-width="0.9"/>
<path d="M565,300 Q600,262 650,252 Q700,244 760,250" fill="none" stroke="#8c9a9e" stroke-width="0.9" opacity="0.8"/>
<rect x="1013.3" y="230.1" width="32.6" height="33.4" rx="2" fill="#fff" stroke="#333" stroke-width="1.1"/>
<rect x="1018.2" y="235.5" width="22.8" height="22.5" rx="1" fill="#fff" stroke="#333" stroke-width="1.3"/>
<circle cx="1029.6" cy="246.7" r="8.3" fill="#fff" stroke="#333" stroke-width="1.1"/>
<circle cx="1026" cy="246.7" r="1.1" fill="#222"/><circle cx="1033.2" cy="246.7" r="1.1" fill="#222"/>
<path d="M1011,279 Q1010,274 1015,273 L1021,273 Q1024,274 1024,278 L1024,287 Q1021,291 1016,291 L1013,291 Q1010,289 1011,285 Z" fill="#fff" stroke="#333" stroke-width="1.2"/>
<path d="M1015,275 L1015,289 M1018,276 Q1020,282 1018,288" fill="none" stroke="#333" stroke-width="0.9"/>
<path d="M1024,278 L1028,278 M1024,284 L1028,284" stroke="#333" stroke-width="1.6"/>
<rect x="1026.5" y="276" width="2" height="10" fill="#333"/>
<path d="M1013,290 L1013,298" stroke="#333" stroke-width="2.5"/>
<path d="M1013,298 C1013,320 1008,335 995,341 C975,349 950,340 925,332" fill="none" stroke="#333" stroke-width="1.4"/>
<circle cx="923" cy="331.5" r="3" fill="#777" stroke="#444" stroke-width="0.8"/>
<path d="M920,330.5 L790,292" stroke="#aaa" stroke-width="0.8"/>
<path d="M845,362 L940,372 L940,598 L845,640 Z" fill="rgb(160,215,205)" fill-opacity="0.18" stroke="#4a9aa5" stroke-opacity="0.45" stroke-width="1"/>
<path d="M861,419 L886,416 Q896,418 896,432 Q896,446 886,448 L861,449 Z" fill="#E4F3F8" stroke="#3BA3DA" stroke-width="1"/>
<ellipse cx="866" cy="434" rx="10.5" ry="15" transform="rotate(-8 866 434)" fill="#fff" stroke="#3BA3DA" stroke-width="1.2"/>
<ellipse cx="864" cy="434" rx="7" ry="11" transform="rotate(-8 864 434)" fill="none" stroke="#3BA3DA" stroke-width="0.8"/>
<ellipse cx="853" cy="392" rx="10" ry="13" fill="#E0EEE8" fill-opacity="0.6" stroke="#7ab8c8" stroke-width="0.8"/>
<circle cx="415.2" cy="324.1" r="1" fill="#fff" fill-opacity="0.45"/><circle cx="376.2" cy="385.7" r="1.5" fill="#fff" fill-opacity="0.45"/><circle cx="455.3" cy="445.6" r="1.2" fill="#fff" fill-opacity="0.45"/><circle cx="370.8" cy="369.4" r="1" fill="#fff" fill-opacity="0.45"/><circle cx="402.3" cy="388.2" r="1" fill="#fff" fill-opacity="0.45"/><circle cx="493.2" cy="319.8" r="1.2" fill="#fff" fill-opacity="0.45"/><circle cx="462.7" cy="393.3" r="1" fill="#fff" fill-opacity="0.45"/><circle cx="454.5" cy="363.5" r="1.2" fill="#fff" fill-opacity="0.45"/><circle cx="372.2" cy="437.4" r="1.5" fill="#fff" fill-opacity="0.45"/><circle cx="430.0" cy="386.5" r="2.5" fill="#fff" fill-opacity="0.45"/><circle cx="412.8" cy="430.6" r="1.2" fill="#fff" fill-opacity="0.45"/><circle cx="381.0" cy="391.4" r="1.2" fill="#fff" fill-opacity="0.45"/><circle cx="422.7" cy="387.6" r="1" fill="#fff" fill-opacity="0.45"/><circle cx="452.5" cy="399.0" r="2" fill="#fff" fill-opacity="0.45"/><circle cx="470.5" cy="368.4" r="1.5" fill="#fff" fill-opacity="0.45"/><circle cx="437.2" cy="447.8" r="1.5" fill="#fff" fill-opacity="0.45"/><circle cx="411.5" cy="427.1" r="1.2" fill="#fff" fill-opacity="0.45"/><circle cx="377.7" cy="348.0" r="2" fill="#fff" fill-opacity="0.45"/><circle cx="500.6" cy="416.7" r="1.5" fill="#fff" fill-opacity="0.45"/><circle cx="459.4" cy="311.7" r="2.5" fill="#fff" fill-opacity="0.45"/><circle cx="429.8" cy="421.1" r="1.2" fill="#fff" fill-opacity="0.45"/><circle cx="509.7" cy="367.5" r="1" fill="#fff" fill-opacity="0.45"/><circle cx="483.5" cy="391.7" r="1.5" fill="#fff" fill-opacity="0.45"/><circle cx="417.7" cy="356.0" r="2" fill="#fff" fill-opacity="0.45"/><circle cx="454.9" cy="373.0" r="1" fill="#fff" fill-opacity="0.45"/><circle cx="511.4" cy="375.9" r="1" fill="#fff" fill-opacity="0.45"/><circle cx="608.5" cy="478.2" r="2.5" fill="#fff" fill-opacity="0.45"/><circle cx="739.0" cy="495.1" r="1.5" fill="#fff" fill-opacity="0.45"/><circle cx="700.3" cy="504.2" r="1.5" fill="#fff" fill-opacity="0.45"/><circle cx="603.2" cy="444.6" r="1.2" fill="#fff" fill-opacity="0.45"/><circle cx="685.5" cy="449.1" r="1.2" fill="#fff" fill-opacity="0.45"/><circle cx="707.6" cy="398.1" r="1.2" fill="#fff" fill-opacity="0.45"/><circle cx="655.7" cy="508.4" r="2" fill="#fff" fill-opacity="0.45"/><circle cx="611.3" cy="442.9" r="2.5" fill="#fff" fill-opacity="0.45"/><circle cx="638.9" cy="399.2" r="2" fill="#fff" fill-opacity="0.45"/><circle cx="721.0" cy="419.0" r="2" fill="#fff" fill-opacity="0.45"/><circle cx="738.1" cy="475.6" r="2" fill="#fff" fill-opacity="0.45"/><circle cx="734.1" cy="401.1" r="1.2" fill="#fff" fill-opacity="0.45"/><circle cx="621.2" cy="472.2" r="1" fill="#fff" fill-opacity="0.45"/><circle cx="667.9" cy="462.5" r="1.5" fill="#fff" fill-opacity="0.45"/><circle cx="639.5" cy="400.4" r="2.5" fill="#fff" fill-opacity="0.45"/><circle cx="651.7" cy="459.3" r="1.2" fill="#fff" fill-opacity="0.45"/><circle cx="522.9" cy="361.9" r="2.5" fill="#fff" fill-opacity="0.45"/><circle cx="518.6" cy="388.8" r="2" fill="#fff" fill-opacity="0.45"/><circle cx="547.9" cy="393.6" r="2.5" fill="#fff" fill-opacity="0.45"/><circle cx="487.1" cy="347.9" r="1" fill="#fff" fill-opacity="0.45"/><circle cx="497.8" cy="348.1" r="1.2" fill="#fff" fill-opacity="0.45"/><circle cx="448.1" cy="325.1" r="1.2" fill="#fff" fill-opacity="0.45"/><circle cx="453.2" cy="372.1" r="1" fill="#fff" fill-opacity="0.45"/><circle cx="440.0" cy="318.2" r="1" fill="#fff" fill-opacity="0.45"/><circle cx="553.9" cy="373.6" r="1" fill="#fff" fill-opacity="0.45"/><circle cx="544.9" cy="373.7" r="1.2" fill="#fff" fill-opacity="0.45"/>
<path d="M167,170.5 Q174,172 177.5,177" fill="none" stroke="#E0202E" stroke-width="1.4"/><path d="M180.0,180.0 L175.0,177.4 L179.3,174.4 Z" fill="#E0202E"/>
<path d="M548,279 L540,276.5" fill="none" stroke="#E0202E" stroke-width="1.4"/><path d="M535.0,275.0 L540.6,274.3 L538.8,279.2 Z" fill="#E0202E"/>
<path d="M702,319 L694,316.5" fill="none" stroke="#E0202E" stroke-width="1.4"/><path d="M689.0,315.0 L694.6,314.3 L692.8,319.2 Z" fill="#E0202E"/>
<path d="M612,467 L628,472" fill="none" stroke="#E0202E" stroke-width="1.4"/><path d="M634.0,474.0 L628.5,475.0 L630.0,470.1 Z" fill="#E0202E"/>
<path d="M457,380 Q461,386 460,391" fill="none" stroke="#E0202E" stroke-width="1.4"/><path d="M460.0,396.0 L457.4,391.0 L462.6,391.0 Z" fill="#E0202E"/>
<path d="M546,492 Q547,498 546,501" fill="none" stroke="#E0202E" stroke-width="1.4"/><path d="M546.0,506.0 L543.4,501.0 L548.6,501.0 Z" fill="#E0202E"/>
<path d="M742,460 Q735,449 722,452" fill="none" stroke="#E0202E" stroke-width="1.4"/><path d="M718.0,454.0 L721.8,449.8 L723.6,454.7 Z" fill="#E0202E"/>
<path d="M760,510 L760,503" fill="none" stroke="#E0202E" stroke-width="1.4"/><path d="M760.0,498.0 L762.6,503.0 L757.4,503.0 Z" fill="#E0202E"/>
<path d="M772,392 L776,386" fill="none" stroke="#E0202E" stroke-width="1.4"/><path d="M779.0,381.0 L778.3,386.6 L774.0,383.6 Z" fill="#E0202E"/>
<path d="M834,349 L826,350.5" fill="none" stroke="#E0202E" stroke-width="1.4"/><path d="M821.0,351.5 L825.8,348.5 L826.2,353.7 Z" fill="#E0202E"/>
<path d="M851,408 Q854,414 853,418" fill="none" stroke="#E0202E" stroke-width="1.4"/><path d="M853.0,423.0 L850.8,417.8 L856.0,418.2 Z" fill="#E0202E"/>
<path d="M868,436 Q856,437 853,446" fill="none" stroke="#E0202E" stroke-width="1.4"/><path d="M852.0,452.0 L849.8,446.8 L855.0,447.2 Z" fill="#E0202E"/>
<path d="M884,462 L884,455" fill="none" stroke="#E0202E" stroke-width="1.4"/><path d="M884.0,450.0 L886.6,455.0 L881.4,455.0 Z" fill="#E0202E"/>
<path d="M502.5,216.5 L510.2,218.8" stroke="#2E9BD6" stroke-width="1"/><path d="M514.0,220.0 L509.6,220.7 L510.8,216.9 Z" fill="#2E9BD6"/>
<path d="M590.5,243.5 L598.2,245.8" stroke="#2E9BD6" stroke-width="1"/><path d="M602.0,247.0 L597.6,247.7 L598.8,243.9 Z" fill="#2E9BD6"/>
<path d="M848.5,315.5 L856.2,313.2" stroke="#2E9BD6" stroke-width="1"/><path d="M860.0,312.0 L856.8,315.1 L855.6,311.3 Z" fill="#2E9BD6"/>
<path d="M786.3,334.9 L778.8,337.6" stroke="#2E9BD6" stroke-width="1"/><path d="M775.0,339.0 L778.1,335.8 L779.4,339.5 Z" fill="#2E9BD6"/>
<path d="M830,596 L838,596 L838,605 L830,605 Z" fill="#3b5666"/>
<path d="M836,599 L873.5,599 L873.5,611 Q855,617 836,611 Z" fill="#44606f" stroke="#2c4450" stroke-width="0.8"/>
<path d="M840,566 L866.5,564 L866,600 Q853,604 840,600 Z" fill="#2A8FAA" stroke="#1f6478" stroke-width="0.8"/>
<path d="M841,556 Q853,552 866,554 L866.5,566 Q853,569 840,567 Z" fill="#3d5868" stroke="#2c4450" stroke-width="0.8"/>
<rect x="871.4" y="529.7" width="13.4" height="14.6" rx="3" fill="#3d5868" stroke="#2c4450" stroke-width="0.8"/>
<path d="M878,544 L878,556 Q877,562 866,562" fill="none" stroke="#2c4450" stroke-width="1"/>
<path d="M262,95 L284,187" stroke="#9c9c9c" stroke-width="0.8" fill="none"/>
<path d="M741,147 L673.5,285" stroke="#9c9c9c" stroke-width="0.8" fill="none"/>
<path d="M868,207 L759.5,312.7" stroke="#9c9c9c" stroke-width="0.8" fill="none"/>
<path d="M926,224 L879,312" stroke="#9c9c9c" stroke-width="0.8" fill="none"/>
<path d="M576,136 L490,178" stroke="#9c9c9c" stroke-width="0.8" fill="none"/>
<path d="M264,513 L402,484" stroke="#9c9c9c" stroke-width="0.8" fill="none"/>
<path d="M365,546 L440,499" stroke="#9c9c9c" stroke-width="0.8" fill="none"/>
<path d="M359,440 L277,633 L506,531" stroke="#9c9c9c" stroke-width="0.8" fill="none"/>
<path d="M543,537 L492,606 L690,577" stroke="#9c9c9c" stroke-width="0.8" fill="none"/>
<path d="M615,645 L747,580" stroke="#9c9c9c" stroke-width="0.8" fill="none"/>
<path d="M742,669 L792,605" stroke="#9c9c9c" stroke-width="0.8" fill="none"/>
<path d="M899,666 L868,618" stroke="#9c9c9c" stroke-width="0.8" fill="none"/>
<path d="M1030,535 L975,510" stroke="#9c9c9c" stroke-width="0.8" fill="none"/>
<path d="M944,629 L862,586" stroke="#9c9c9c" stroke-width="0.8" fill="none"/>
<path d="M58.7,117.3 L104,130.6" stroke="#999" stroke-width="1"/><path d="M101,127 L109,132 L100,134 Z" fill="#aaa"/>
<path d="M952,432 L1045,458.5" stroke="#999" stroke-width="1"/><path d="M1042,455 L1050,460 L1041,462 Z" fill="#aaa"/>
<ellipse cx="146.5" cy="155.5" rx="10.5" ry="16" fill="#fff" stroke="#c4c4c4" stroke-width="1.2"/>
<ellipse cx="151.5" cy="156.5" rx="10" ry="15" fill="#fff" stroke="#c4c4c4" stroke-width="1.2"/>
<ellipse cx="156" cy="157.5" rx="9" ry="12.5" fill="#fff" stroke="#c4c4c4" stroke-width="1.2"/>
<ellipse cx="159.5" cy="158.5" rx="7.5" ry="11.5" fill="#fff" stroke="#c4c4c4" stroke-width="1.2"/>
<circle cx="256.4" cy="75.9" r="19.6" fill="#C6C6C6"/>
<text x="256.4" y="82.4" text-anchor="middle" font-size="16" font-weight="bold" fill="#fff" stroke="#fff" stroke-width="0.4">ПО</text>
<circle cx="749.4" cy="129.3" r="19.6" fill="#C6C6C6"/>
<text x="749.4" y="135.8" text-anchor="middle" font-size="16" font-weight="bold" fill="#fff" stroke="#fff" stroke-width="0.4">А1</text>
<circle cx="879.3" cy="192.5" r="19.6" fill="#C6C6C6"/>
<text x="879.3" y="199.0" text-anchor="middle" font-size="16" font-weight="bold" fill="#fff" stroke="#fff" stroke-width="0.4">А2</text>
<circle cx="348.2" cy="558.1" r="19.6" fill="#C6C6C6"/>
<text x="348.2" y="564.6" text-anchor="middle" font-size="16" font-weight="bold" fill="#fff" stroke="#fff" stroke-width="0.4">АН</text>
<circle cx="731.9" cy="688" r="19.6" fill="#C6C6C6"/>
<text x="731.9" y="694.5" text-anchor="middle" font-size="16" font-weight="bold" fill="#fff" stroke="#fff" stroke-width="0.4">ВО</text>
<circle cx="909.3" cy="683.5" r="19.6" fill="#C6C6C6"/>
<text x="909.3" y="690.0" text-anchor="middle" font-size="16" font-weight="bold" fill="#fff" stroke="#fff" stroke-width="0.4">КС</text>
<circle cx="1048.3" cy="543.7" r="19.6" fill="#C6C6C6"/>
<text x="1048.3" y="550.2" text-anchor="middle" font-size="16" font-weight="bold" fill="#fff" stroke="#fff" stroke-width="0.4">ТО</text>
<text x="591.80" y="117.80" font-size="16" letter-spacing="0.095" fill="#111" stroke="#111" stroke-width="0.35">Воздушный</text>
<text x="591.60" y="134.20" font-size="16" letter-spacing="0.398" fill="#111" stroke="#111" stroke-width="0.35">компрессор</text>
<text x="885.40" y="87.00" font-size="16" letter-spacing="-0.109" fill="#111" stroke="#111" stroke-width="0.35">Движение</text>
<text x="886.00" y="102.20" font-size="16" letter-spacing="-0.193" fill="#111" stroke="#111" stroke-width="0.35">воздуха</text>
<text x="987.60" y="87.00" font-size="16" letter-spacing="-0.051" fill="#111" stroke="#111" stroke-width="0.35">Движение</text>
<text x="988.40" y="102.20" font-size="16" letter-spacing="-0.183" fill="#111" stroke="#111" stroke-width="0.35">сточных</text>
<text x="988.40" y="117.40" font-size="16" letter-spacing="-0.520" fill="#111" stroke="#111" stroke-width="0.35">вод</text>
<text x="934.00" y="208.50" font-size="16" letter-spacing="0.252" fill="#111" stroke="#111" stroke-width="0.35">Эрлифт</text>
<text x="934.20" y="223.70" font-size="16" letter-spacing="0.192" fill="#111" stroke="#111" stroke-width="0.35">осадка</text>
<text x="108.60" y="534.80" font-size="16" letter-spacing="0.308" fill="#111" stroke="#111" stroke-width="0.35">Крупнопузырчатая</text>
<text x="108.60" y="554.00" font-size="16" letter-spacing="-0.233" fill="#111" stroke="#111" stroke-width="0.35">аэрация</text>
<text x="131.00" y="649.00" font-size="16" letter-spacing="0.203" fill="#111" stroke="#111" stroke-width="0.35">Съёмные кассеты</text>
<text x="131.50" y="668.40" font-size="16" letter-spacing="0.384" fill="#111" stroke="#111" stroke-width="0.35">инертной загрузки</text>
<text x="385.70" y="627.00" font-size="16" letter-spacing="0.289" fill="#111" stroke="#111" stroke-width="0.35">Мелкопузырчатая</text>
<text x="385.70" y="646.20" font-size="16" letter-spacing="0.017" fill="#111" stroke="#111" stroke-width="0.35">аэрация</text>
<text x="536.80" y="653.50" font-size="16" letter-spacing="0.232" fill="#111" stroke="#111" stroke-width="0.35">Эрлифт</text>
<text x="536.80" y="672.90" font-size="16" letter-spacing="0.414" fill="#111" stroke="#111" stroke-width="0.35">возвратного</text>
<text x="536.80" y="692.50" font-size="16" letter-spacing="0.373" fill="#111" stroke="#111" stroke-width="0.35">и избыточного</text>
<text x="536.80" y="712.30" font-size="16" letter-spacing="-0.450" fill="#111" stroke="#111" stroke-width="0.35">ила</text>
<text x="950.90" y="621.60" font-size="16" letter-spacing="0.348" fill="#111" stroke="#111" stroke-width="0.35">Дренажный</text>
<text x="951.40" y="638.60" font-size="16" letter-spacing="0.093" fill="#111" stroke="#111" stroke-width="0.35">насос для</text>
<text x="951.40" y="654.70" font-size="16" letter-spacing="0.300" fill="#111" stroke="#111" stroke-width="0.35">принудительного</text>
<text x="951.60" y="670.30" font-size="16" letter-spacing="0.190" fill="#111" stroke="#111" stroke-width="0.35">сброса воды</text>
<text x="39.00" y="109.00" font-size="15" font-weight="bold" letter-spacing="-0.008" fill="#111">Вход</text>
<text x="1034.40" y="482.90" font-size="14.9" font-weight="bold" letter-spacing="-0.042" fill="#111">Выход</text>
<text x="1029.6" y="213.8" text-anchor="middle" font-size="10" font-weight="bold" fill="#111">Сеть</text>
<text x="1029.6" y="223.9" text-anchor="middle" font-size="11" font-weight="bold" fill="#111">220В</text>
<path d="M884,51.6 L914,51.6" stroke="#2E9BD6" stroke-width="2"/><path d="M912,47.5 L921,51.6 L912,55.7 Z" fill="#2E9BD6"/>
<path d="M986.7,51.6 L1016,51.6" stroke="#D52B3A" stroke-width="2"/><path d="M1014.5,47.5 L1023.4,51.6 L1014.5,55.7 Z" fill="#D52B3A"/>
</svg></body></html>
